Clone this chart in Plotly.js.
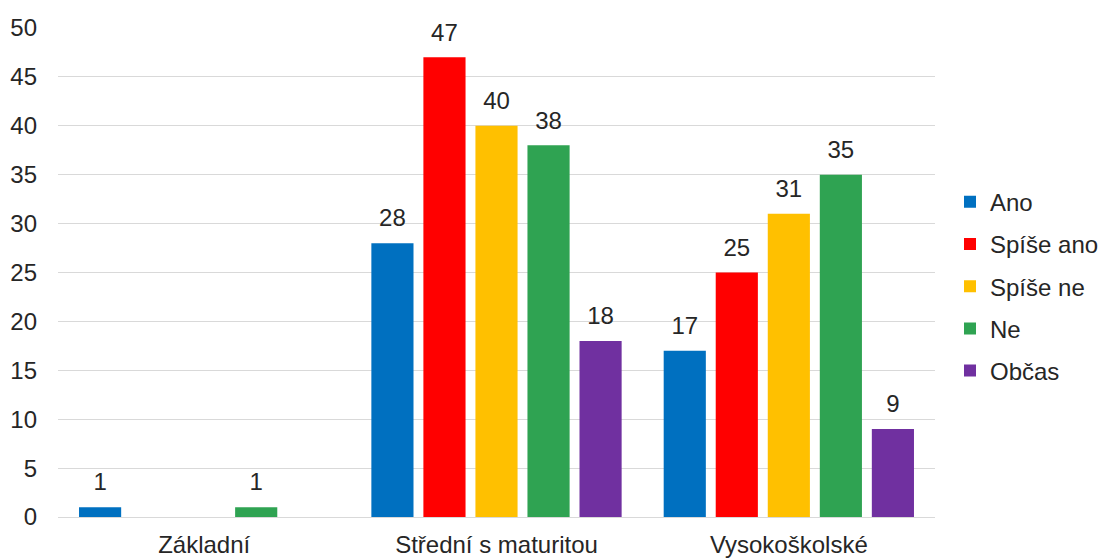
<!DOCTYPE html>
<html>
<head>
<meta charset="utf-8">
<script src="https://cdn.plot.ly/plotly-3.0.1.min.js"></script>
<style>html,body{margin:0;padding:0;background:#fff;}#chart{width:1104px;height:559px;}</style>
</head>
<body>
<div id="chart"></div>
<script>
var categories = ["Základní", "Střední s maturitou", "Vysokoškolské"];
var seriesNames = ["Ano", "Spíše ano", "Spíše ne", "Ne", "Občas"];
var ano = [1, 28, 17];
var spiseAno = [0, 47, 25];
var spiseNe = [0, 40, 31];
var ne = [1, 38, 35];
var obcas = [0, 18, 9];
var yTicks = [0, 5, 10, 15, 20, 25, 30, 35, 40, 45, 50];
var colors = ["#0070C0", "#FF0000", "#FFC000", "#2FA352", "#7030A0"];

var FONT = "Liberation Sans, Arial, sans-serif";
var labelLift = 0.9; // visual gap between bar top and its value label (axis units)

var allValues = [ano, spiseAno, spiseNe, ne, obcas];
var traces = [];
allValues.forEach(function (vals, i) {
  traces.push({
    type: "bar",
    name: seriesNames[i],
    x: categories,
    y: vals,
    offsetgroup: "g" + i,
    marker: {color: colors[i]},
    legendgroup: "g" + i
  });
});
allValues.forEach(function (vals, i) {
  traces.push({
    type: "bar",
    name: seriesNames[i] + " label",
    x: categories,
    y: vals,
    base: vals.map(function () { return labelLift; }),
    offsetgroup: "g" + i,
    marker: {color: "rgba(0,0,0,0)"},
    text: vals.map(function (v) { return v ? String(v) : ""; }),
    textposition: "outside",
    textfont: {family: FONT, size: 24, color: "#262626"},
    cliponaxis: false,
    showlegend: false,
    hoverinfo: "skip"
  });
});

var layout = {
  width: 1104, height: 559,
  margin: {l: 58, r: 169, t: 28, b: 42, autoexpand: false},
  paper_bgcolor: "#fff", plot_bgcolor: "#fff",
  barmode: "group",
  bargap: 0.11,
  bargroupgap: 0.19,
  font: {family: FONT, size: 24, color: "#262626"},
  xaxis: {
    showgrid: false, showline: true, linecolor: "#d9d9d9", linewidth: 1,
    ticks: "", tickfont: {size: 24, color: "#262626"}, ticklabelstandoff: 6
  },
  yaxis: {
    range: [0, 50], tickvals: yTicks, ticktext: yTicks.map(String),
    showgrid: true, gridcolor: "#d9d9d9", gridwidth: 1,
    zeroline: true, zerolinecolor: "#d9d9d9", showline: false,
    ticks: "", tickfont: {size: 24, color: "#262626"}, ticklabelstandoff: 20
  },
  legend: {
    x: (950 - 58) / 877, xanchor: "left", y: 0.472, yanchor: "middle",
    font: {size: 24, color: "#262626"},
    tracegroupgap: 8,
    itemwidth: 30
  },
  showlegend: true
};

Plotly.newPlot("chart", traces, layout, {displayModeBar: false, staticPlot: true});
</script>
</body>
</html>
